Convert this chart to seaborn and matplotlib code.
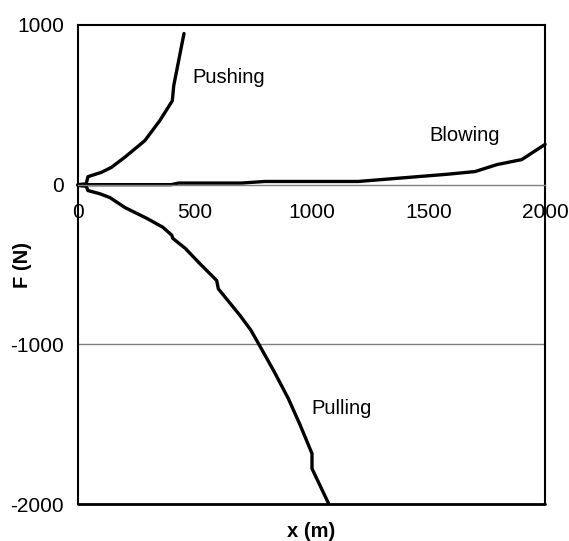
import pandas as pd
import matplotlib
matplotlib.use("Agg")
import matplotlib.pyplot as plt
import seaborn as sns

# Force (N) against distance (m)
push_x = [0, 35, 43, 100, 143, 200, 286, 350, 404, 410, 454]
push_f = [0, 5, 50, 77, 108, 171, 275, 400, 525, 619, 946]

blow_x = [0, 400, 430, 700, 800, 1200, 1580, 1700, 1795, 1900, 2000]
blow_f = [0, 0, 10, 10, 20, 20, 65, 82, 126, 157, 252]

pull_x = [0, 35, 43, 94, 137, 201, 295, 364, 402, 406, 459, 523, 594, 601,
          694, 740, 780, 840, 901, 950, 1002, 1002, 1073]
pull_f = [-5, -10, -37, -57, -81, -143, -211, -267, -317, -336, -398, -496,
          -600, -652, -819, -910, -1013, -1170, -1340, -1500, -1683, -1777, -1996]

labels = ["Pushing", "Blowing", "Pulling"]
label_pos = [(489, 673), (1504, 308), (999, -1402)]

x_ticks = [0, 500, 1000, 1500, 2000]
y_ticks = [-2000, -1000, 0, 1000]

df = pd.concat([
    pd.DataFrame({"x": push_x, "F": push_f, "case": "Pushing"}),
    pd.DataFrame({"x": blow_x, "F": blow_f, "case": "Blowing"}),
    pd.DataFrame({"x": pull_x, "F": pull_f, "case": "Pulling"}),
], ignore_index=True)

sns.set_style("white")
plt.rcParams["font.family"] = ["Liberation Sans", "DejaVu Sans"]
plt.rcParams["axes.unicode_minus"] = False
plt.rcParams["text.color"] = "black"
plt.rcParams["xtick.labelcolor"] = "black"
plt.rcParams["ytick.labelcolor"] = "black"

fig = plt.figure(figsize=(5.69, 5.41), dpi=100)
ax = fig.add_axes([0.137, 0.068, 0.821, 0.886])

# reference gridline at -1000
ax.axhline(-1000, color="#808080", lw=1.0, zorder=0)

sns.lineplot(data=df, x="x", y="F", units="case", estimator=None, sort=False,
             color="black", lw=2.4, ax=ax, legend=False, clip_on=False)

for name, (lx, ly) in zip(labels, label_pos):
    ax.text(lx, ly, name, fontsize=14.5, ha="left", va="center", color="black")

ax.set_xlim(0, 2000)
ax.set_ylim(-2000, 1000)
ax.set_xticks(x_ticks)
ax.set_yticks(y_ticks)
ax.tick_params(axis="both", labelsize=15, direction="out")
ax.tick_params(axis="y", length=6, width=1.2, color="black", pad=4)
ax.tick_params(axis="x", length=5, width=1.0, color="#808080", pad=8)

# x axis sits on F = 0, the box keeps a black frame
for side in ["left", "right", "top"]:
    ax.spines[side].set_color("black")
    ax.spines[side].set_linewidth(1.5)
ax.spines["bottom"].set_position(("data", 0))
ax.spines["bottom"].set_color("#808080")
ax.spines["bottom"].set_linewidth(1.0)
ax.axhline(-2000, color="black", lw=2.0, clip_on=False)

ax.set_xlabel("")
ax.set_ylabel("")
fig.text(0.547, 0.017, "x (m)", fontsize=14.5, fontweight="bold", ha="center", va="center")
fig.text(0.040, 0.511, "F (N)", fontsize=14.5, fontweight="bold", ha="center",
         va="center", rotation=90)

fig.savefig("out.png", dpi=100)
